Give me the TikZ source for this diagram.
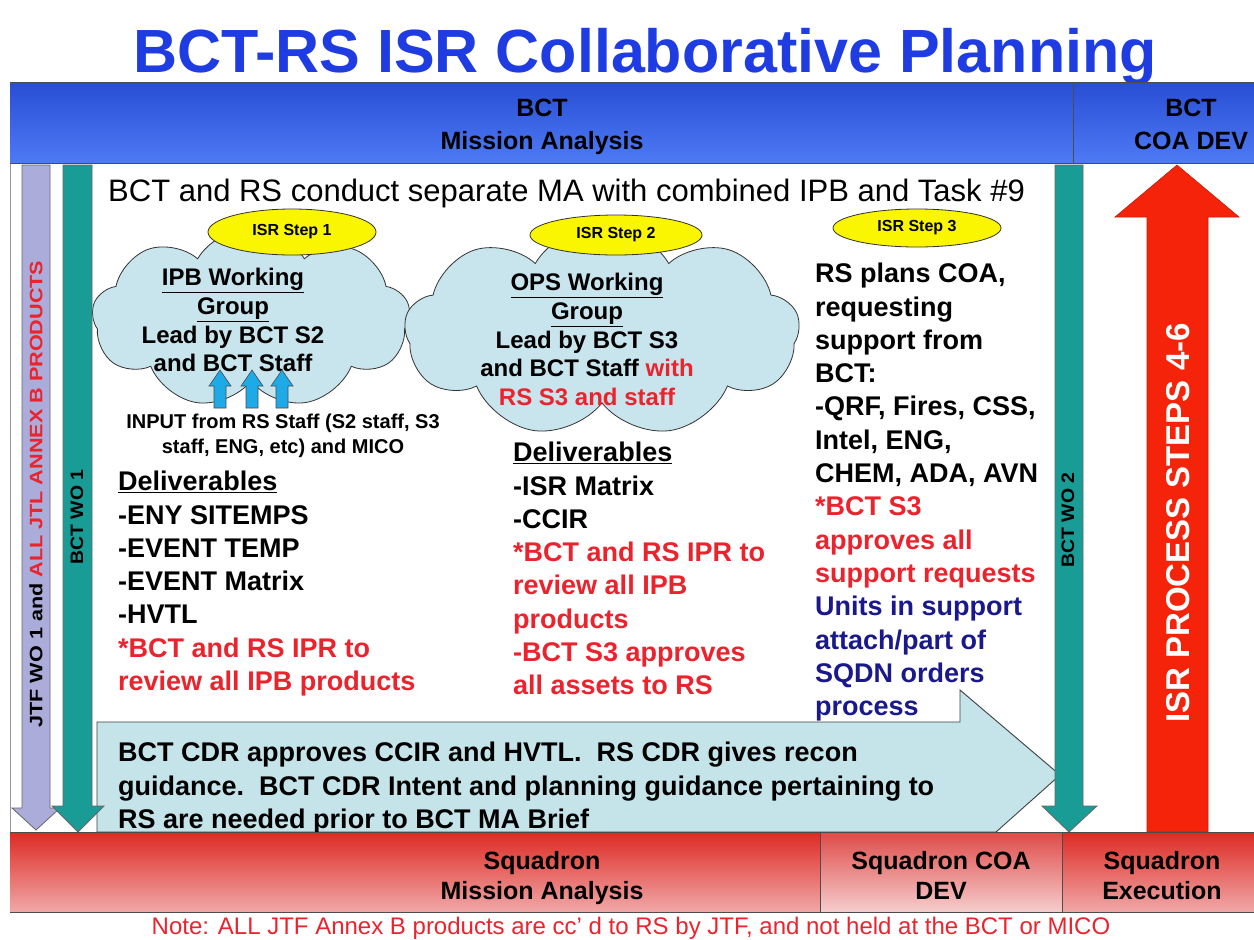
\documentclass[tikz,border=0pt]{standalone}
\usepackage{fontspec}
\setmainfont{Liberation Sans}
\usetikzlibrary{shapes.symbols,shapes.geometric}
\definecolor{titleblue}{RGB}{30,60,225}
\definecolor{bandtop}{RGB}{40,78,212}
\definecolor{bandbot}{RGB}{78,122,245}
\definecolor{txtred}{RGB}{235,35,45}
\definecolor{txtnavy}{RGB}{25,25,140}
\definecolor{tealA}{RGB}{25,155,150}
\definecolor{purp}{RGB}{172,172,218}
\definecolor{arrred}{RGB}{245,35,10}
\definecolor{cloudfill}{RGB}{200,228,236}
\definecolor{ellyel}{RGB}{250,245,0}
\definecolor{calfill}{RGB}{196,228,234}
\definecolor{sqred}{RGB}{222,42,35}
\definecolor{sqpink}{RGB}{240,168,168}
\definecolor{coatop}{RGB}{222,75,72}
\definecolor{coabot}{RGB}{246,205,205}
\definecolor{inputblue}{RGB}{30,170,230}
\newcommand\myfs[2]{\fontsize{#1}{#2}\selectfont}
\tikzset{
  outline/.style={draw=black!75, line width=0.8pt},
  stepell/.style={ellipse, draw=black!80, line width=0.8pt, fill=ellyel, inner sep=0pt, font=\bfseries\myfs{16}{18}},
  cloudshape/.style={cloud, cloud puffs=9, cloud puff arc=120, draw=black!80, line width=0.8pt, fill=cloudfill, inner sep=0pt},
  bodytxt/.style={anchor=north west, inner sep=0pt, align=left, font=\bfseries\myfs{27}{33.3}},
  cloudtxt/.style={anchor=north, inner sep=0pt, align=center, font=\bfseries\myfs{24}{28.8}},
  bandtxt/.style={anchor=north, inner sep=0pt, align=center, font=\bfseries\myfs{25}{33}},
  sqtxt/.style={anchor=north, inner sep=0pt, align=center, font=\bfseries\myfs{25}{30}},
  vtxt/.style={rotate=90, inner sep=0pt, font=\bfseries\myfs{18}{20}},
}
\begin{document}
\begin{tikzpicture}[x=1pt,y=-1pt]
\useasboundingbox (0,0) rectangle (1254,940);
\fill[white] (0,0) rectangle (1254,940);
% frame
\draw[black!40, line width=0.8pt] (10,82) rectangle (1254,912);
% title
\node[anchor=base, inner sep=0pt, font=\bfseries\myfs{61}{70}, text=titleblue] (title) at (645,72) {BCT-RS ISR Collaborative Planning};
% top band
\shade[top color=bandtop, bottom color=bandbot] (10,82) rectangle (1254,163);
\draw[black!70, line width=0.8pt] (10,82) -- (1254,82);
\draw[black!70, line width=0.8pt] (10,163) -- (1254,163);
\draw[black!70, line width=0.8pt] (1073,82) -- (1073,163);
\node[bandtxt] (bctma) at (542,99) {BCT\\Mission Analysis};
\node[bandtxt] (bctcoa) at (1191,99) {BCT\\COA DEV};
% heading
\node[anchor=base west, inner sep=0pt, font=\myfs{31}{36}] (head) at (108,201) {BCT and RS conduct separate MA with combined IPB and Task \#9};
% clouds
\node[cloudshape, minimum width=318pt, minimum height=180pt] (cloud1) at (251,318) {};
\node[cloudshape, minimum width=395pt, minimum height=212pt] (cloud2) at (602,331) {};
% ellipses
\node[stepell, minimum width=168pt, minimum height=46pt] (step1) at (292,232) {ISR Step 1};
\node[stepell, minimum width=172pt, minimum height=40pt] (step2) at (616,235) {ISR Step 2};
\node[stepell, minimum width=168pt, minimum height=38pt] (step3) at (917,228) {ISR Step 3};
% cloud texts
\node[cloudtxt] (c1txt) at (233,268) {\underline{IPB Working}\\\underline{Group}\\Lead by BCT S2\\and BCT Staff};
\node[cloudtxt] (c2txt) at (587,273) {\underline{OPS Working}\\\underline{Group}\\Lead by BCT S3\\and BCT Staff {\color{txtred}with}\\{\color{txtred}RS S3 and staff}};
% input arrows
\foreach \c in {220,252,282}{
  \filldraw[fill=inputblue, draw=black!70, line width=0.6pt] (\c-6,408) -- (\c-6,386) -- (\c-11,386) -- (\c,370) -- (\c+11,386) -- (\c+6,386) -- (\c+6,408) -- cycle;
}
\node[anchor=north, inner sep=0pt, align=center, font=\bfseries\myfs{20}{24.5}] (input) at (283,414) {INPUT from RS Staff (S2 staff, S3\\staff, ENG, etc) and MICO};
% column texts
\node[bodytxt] (col1) at (118,471) {\underline{Deliverables}\\-ENY SITEMPS\\-EVENT TEMP\\-EVENT Matrix\\-HVTL\\{\color{txtred}*BCT and RS IPR to}\\{\color{txtred}review all IPB products}};
\node[bodytxt] (col2) at (513,442) {\underline{Deliverables}\\-ISR Matrix\\-CCIR\\{\color{txtred}*BCT and RS IPR to}\\{\color{txtred}review all IPB}\\{\color{txtred}products}\\{\color{txtred}-BCT S3 approves}\\{\color{txtred}all assets to RS}};
\node[bodytxt] (col3) at (815,263) {RS plans COA,\\requesting\\support from\\BCT:\\-QRF, Fires, CSS,\\Intel, ENG,\\CHEM, ADA, AVN\\{\color{txtred}*BCT S3}\\{\color{txtred}approves all}\\{\color{txtred}support requests}\\{\color{txtnavy}Units in support}\\{\color{txtnavy}attach/part of}\\{\color{txtnavy}SQDN orders}\\{\color{txtnavy}process}};
% callout
\filldraw[fill=calfill, draw=black!75, line width=0.9pt] (97,722) -- (960,722) -- (960,690) -- (1060,775) -- (996,832) -- (97,832) -- cycle;
\node[bodytxt] (callout) at (118,742) {BCT CDR approves CCIR and HVTL.\ \ RS CDR gives recon\\guidance.\ \ BCT CDR Intent and planning guidance pertaining to\\RS are needed prior to BCT MA Brief};
% down arrows
\filldraw[fill=purp, draw=black!60, line width=0.8pt] (22,165) -- (50,165) -- (50,808) -- (60,808) -- (36,830) -- (12,808) -- (22,808) -- cycle;
\filldraw[fill=tealA, draw=black!60, line width=0.8pt] (63,165) -- (92,165) -- (92,806) -- (104,806) -- (78,832) -- (52,806) -- (63,806) -- cycle;
\filldraw[fill=tealA, draw=black!60, line width=0.8pt] (1055,165) -- (1083,165) -- (1083,806) -- (1097,806) -- (1069,832) -- (1042,806) -- (1055,806) -- cycle;
\node[vtxt] (jtf) at (36,494) {\scalebox{1.2}[1]{JTF WO 1 and {\color{txtred}ALL JTL ANNEX B PRODUCTS}}};
\node[vtxt] (wo1) at (77,517) {\scalebox{1.08}[1]{BCT WO 1}};
\node[vtxt] (wo2) at (1068,520) {\scalebox{1.08}[1]{BCT WO 2}};
% red up arrow
\filldraw[fill=arrred, draw=arrred!80!black, line width=0.6pt] (1147,832) -- (1147,217) -- (1115,217) -- (1177,165) -- (1239,217) -- (1208,217) -- (1208,832) -- cycle;
\node[rotate=90, inner sep=0pt, text=white, font=\bfseries\myfs{33}{36}] (isr) at (1178,523) {ISR PROCESS STEPS 4-6};
% bottom band
\shade[top color=sqred, bottom color=sqpink] (10,832) rectangle (1254,912);
\shade[top color=coatop, bottom color=coabot] (820,832) rectangle (1062,912);
\draw[black!70, line width=0.8pt] (820,832) rectangle (1062,912);
\draw[black!70, line width=0.8pt] (10,832) -- (1254,832);
\draw[black!70, line width=0.8pt] (10,912) -- (1254,912);
\node[sqtxt] (sqma) at (542,851) {Squadron\\Mission Analysis};
\node[sqtxt] (sqcoa) at (941,851) {Squadron COA\\DEV};
\node[sqtxt] (sqex) at (1162,851) {Squadron\\Execution};
% note
\node[inner sep=0pt, text=txtred, font=\myfs{24}{26}] (note) at (631,928) {Note: ALL JTF Annex B products are cc’ d to RS by JTF, and not held at the BCT or MICO};
\end{tikzpicture}
\end{document}
